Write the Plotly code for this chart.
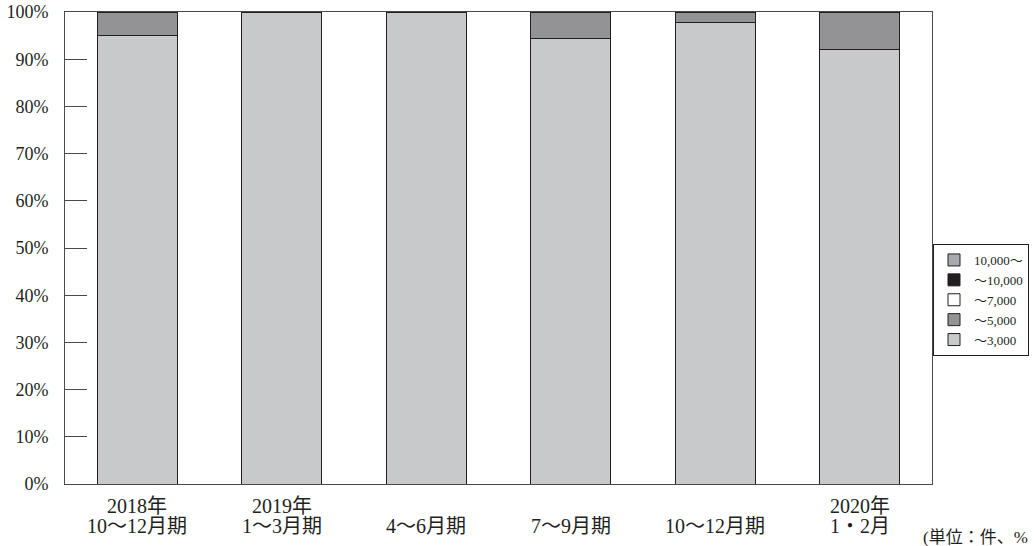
import plotly.graph_objects as go

cat_line1 = ["2018年", "2019年", "", "", "", "2020年"]
cat_line2 = ["10～12月期", "1～3月期", "4～6月期", "7～9月期", "10～12月期", "1・2月"]
series_names = ["～3,000", "～5,000", "～7,000", "～10,000", "10,000～"]
v_3000 = [95.1, 100.0, 100.0, 94.4, 97.7, 92.0]
v_5000 = [4.9, 0.0, 0.0, 5.6, 2.3, 8.0]
v_7000 = [0, 0, 0, 0, 0, 0]
v_10000 = [0, 0, 0, 0, 0, 0]
v_over = [0, 0, 0, 0, 0, 0]
values = [v_3000, v_5000, v_7000, v_10000, v_over]
colors = ["#c8c9cb", "#939396", "#ffffff", "#231f20", "#a9aaad"]
y_ticks = [0, 10, 20, 30, 40, 50, 60, 70, 80, 90, 100]

INK = "#231f20"
FRAME = "#4a4a4a"
FONT = "Liberation Serif, DejaVu Serif, Noto Sans CJK JP, serif"

W, H = 1034, 546
L, R, T, B = 65, 932, 12, 484   # plot area in window pixels
PW, PH = R - L, B - T

xs = list(range(len(cat_line2)))

fig = go.Figure()
for name, vals, col in zip(series_names, values, colors):
    fig.add_trace(go.Bar(
        x=xs, y=vals, name=name,
        marker=dict(color=col, line=dict(color=INK, width=1)),
        width=0.555,
    ))

annotations = []
for i, (a, b) in enumerate(zip(cat_line1, cat_line2)):
    if a:
        annotations.append(dict(text=a, x=i, xref="x", y=-(505.5 - B) / PH, yref="paper",
                                showarrow=False, xanchor="center", yanchor="middle",
                                font=dict(size=20)))
    annotations.append(dict(text=b, x=i, xref="x", y=-(525.5 - B) / PH, yref="paper",
                            showarrow=False, xanchor="center", yanchor="middle",
                            font=dict(size=20)))
annotations.append(dict(text="(単位：件、%", x=(921 - L) / PW, xref="paper",
                        y=-(537 - B) / PH, yref="paper", showarrow=False,
                        xanchor="left", yanchor="middle", font=dict(size=17)))

fig.update_layout(
    width=W, height=H,
    barmode="stack",
    plot_bgcolor="white", paper_bgcolor="white",
    margin=dict(l=L, r=W - R, t=T, b=H - B, autoexpand=False),
    font=dict(family=FONT, color=INK, size=18),
    showlegend=True,
    legend=dict(
        traceorder="reversed",
        xref="container", yref="container",
        x=933 / W, y=1 - 300 / H, xanchor="left", yanchor="middle",
        bordercolor=INK, borderwidth=1,
        font=dict(size=13, family=FONT, color=INK),
        itemwidth=30,
        tracegroupgap=0,
    ),
    xaxis=dict(
        tickvals=xs,
        range=[-0.5, 5.5],
        showticklabels=False,
        showline=True, linecolor=FRAME, linewidth=1, mirror=True,
        showgrid=False, ticks="", zeroline=False, automargin=False,
    ),
    yaxis=dict(
        range=[0, 100],
        tickmode="array",
        tickvals=y_ticks,
        ticktext=[f"{v}%" for v in y_ticks],
        showline=True, linecolor=FRAME, linewidth=1, mirror=True,
        showgrid=False, ticks="inside", ticklen=22, tickcolor=FRAME, tickwidth=1,
        ticklabelstandoff=12, ticklabeloverflow="allow",
        zeroline=False, automargin=False,
        tickfont=dict(size=18),
    ),
    annotations=annotations,
)

fig.write_html(
    "out.html",
    config={"displayModeBar": False},
    post_script="document.body.style.margin='0';document.body.style.overflow='hidden';",
)
